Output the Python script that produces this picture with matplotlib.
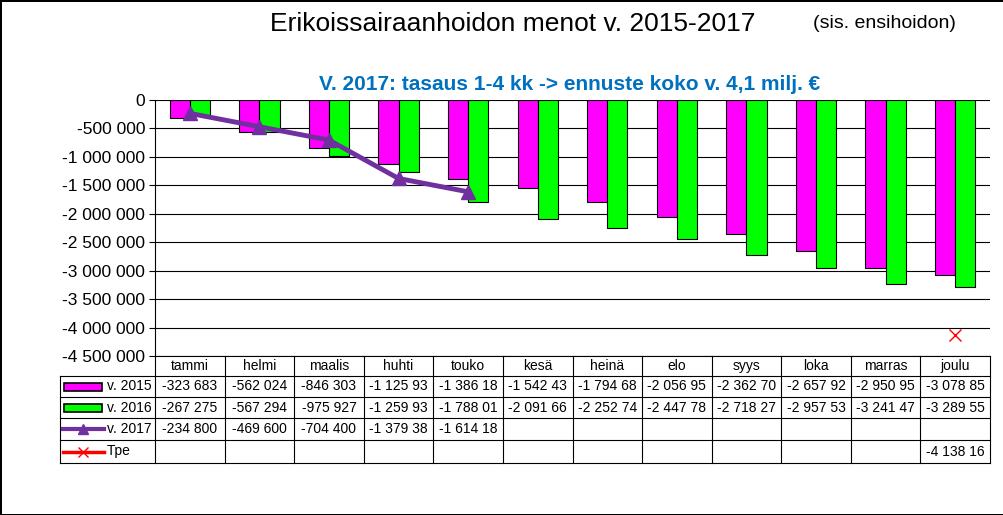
import matplotlib.pyplot as plt
from matplotlib import font_manager
import numpy as np

months = ['tammi', 'helmi', 'maalis', 'huhti', 'touko', 'kesä', 'heinä',
          'elo', 'syys', 'loka', 'marras', 'joulu']
v2015 = [-323683, -562024, -846303, -1125930, -1386180, -1542430, -1794680,
         -2056950, -2362700, -2657920, -2950950, -3078850]
v2016 = [-267275, -567294, -975927, -1259930, -1788010, -2091660, -2252740,
         -2447780, -2718270, -2957530, -3241470, -3289550]
v2017 = [-234800, -469600, -704400, -1379380, -1614180]
tpe = [None] * 11 + [-4138160]
yticks = [0, -500000, -1000000, -1500000, -2000000, -2500000, -3000000,
          -3500000, -4000000, -4500000]

MAG = '#ff00ff'
GRN = '#00ff00'
PUR = '#7030a0'

names = {f.name for f in font_manager.fontManager.ttflist}
NARROW = 'Liberation Sans Narrow' if 'Liberation Sans Narrow' in names else 'Liberation Sans'
plt.rcParams['font.family'] = 'Liberation Sans'


def fmt(v, cut=True):
    s = '{:,}'.format(int(v)).replace(',', ' ')
    return s[:9] if cut else s


W, H = 1004, 515
fig = plt.figure(figsize=(W / 100, H / 100), dpi=100)
fig.patch.set_edgecolor('black')
fig.patch.set_linewidth(2)

x0, x1, ytop, ybot = 155, 990, 100, 356
ax = fig.add_axes([x0 / W, 1 - ybot / H, (x1 - x0) / W, (ybot - ytop) / H])
n = len(months)
x = np.arange(n)
bw = 0.29
ax.bar(x - bw / 2, v2015, bw, color=MAG, edgecolor='black', linewidth=0.8, zorder=3)
ax.bar(x + bw / 2, v2016, bw, color=GRN, edgecolor='black', linewidth=0.8, zorder=3)
ax.plot(x[:len(v2017)], v2017, color=PUR, lw=3.5, marker='^', ms=10, zorder=4)
tx = [i for i, v in enumerate(tpe) if v is not None]
ax.plot(tx, [tpe[i] for i in tx], 'x', color='red', ms=8, zorder=4)
ax.set_xlim(-0.5, n - 0.5)
ax.set_ylim(-4500000, 0)
ax.set_yticks(yticks)
ax.set_yticklabels([fmt(v, False) if v else '0' for v in yticks], fontsize=12.5)
ax.tick_params(axis='y', length=4, pad=3)
ax.set_xticks([])
ax.grid(axis='y', color='black', lw=0.8, zorder=0)
for s in ['top', 'right']:
    ax.spines[s].set_visible(False)
ax.spines['bottom'].set_visible(False)

# data table
rows = [356, 376, 397, 418, 440, 463]
lab_l = 60
colw = (x1 - x0) / n


def fy(y):
    return 1 - y / H


def fx(px):
    return px / W


for i, y in enumerate(rows):
    xl = x0 if i == 0 else lab_l
    fig.add_artist(plt.Line2D([fx(xl), fx(x1)], [fy(y), fy(y)], color='black', lw=0.8))
for j in range(n + 1):
    xx = x0 + j * colw
    fig.add_artist(plt.Line2D([fx(xx), fx(xx)], [fy(rows[0]), fy(rows[-1])], color='black', lw=0.8))
fig.add_artist(plt.Line2D([fx(lab_l), fx(lab_l)], [fy(rows[1]), fy(rows[-1])], color='black', lw=0.8))

for j, m in enumerate(months):
    fig.text(fx(x0 + (j + 0.5) * colw), fy((rows[0] + rows[1]) / 2), m,
             ha='center', va='center', fontsize=10, family=NARROW)

series = [('v. 2015', v2015), ('v. 2016', v2016), ('v. 2017', v2017), ('Tpe', tpe)]
for r, (name, vals) in enumerate(series):
    yc = fy((rows[r + 1] + rows[r + 2]) / 2)
    for j, v in enumerate(vals):
        if v is not None:
            fig.text(fx(x0 + (j + 0.5) * colw), yc, fmt(v), ha='center', va='center',
                     fontsize=10, family=NARROW)
    fig.text(fx(107), yc, name, ha='left', va='center', fontsize=10, family=NARROW)
    if r < 2:
        fig.add_artist(plt.Rectangle((fx(64), yc - 4 / H), 38 / W, 8 / H,
                                     facecolor=MAG if r == 0 else GRN, edgecolor='black', lw=1.2))
    elif r == 2:
        fig.add_artist(plt.Line2D([fx(63), fx(104)], [yc, yc], color=PUR, lw=3))
        fig.add_artist(plt.Line2D([fx(83.5)], [yc], color=PUR, marker='^', ms=7, lw=0))
    else:
        fig.add_artist(plt.Line2D([fx(63), fx(104)], [yc, yc], color='red', lw=2.5))
        fig.add_artist(plt.Line2D([fx(83.5)], [yc], color='red', marker='x', ms=7, lw=0))

fig.text(fx(270), fy(24), 'Erikoissairaanhoidon menot v. 2015-2017', fontsize=19,
         ha='left', va='center')
fig.text(fx(813), fy(24), '(sis. ensihoidon)', fontsize=14, ha='left', va='center')
fig.text(fx(570), fy(84), 'V. 2017: tasaus 1-4 kk -> ennuste koko v. 4,1 milj. €',
         fontsize=15, fontweight='bold', color='#0070c0', ha='center', va='center')

fig.savefig('out.png', dpi=100, edgecolor=fig.get_edgecolor())
